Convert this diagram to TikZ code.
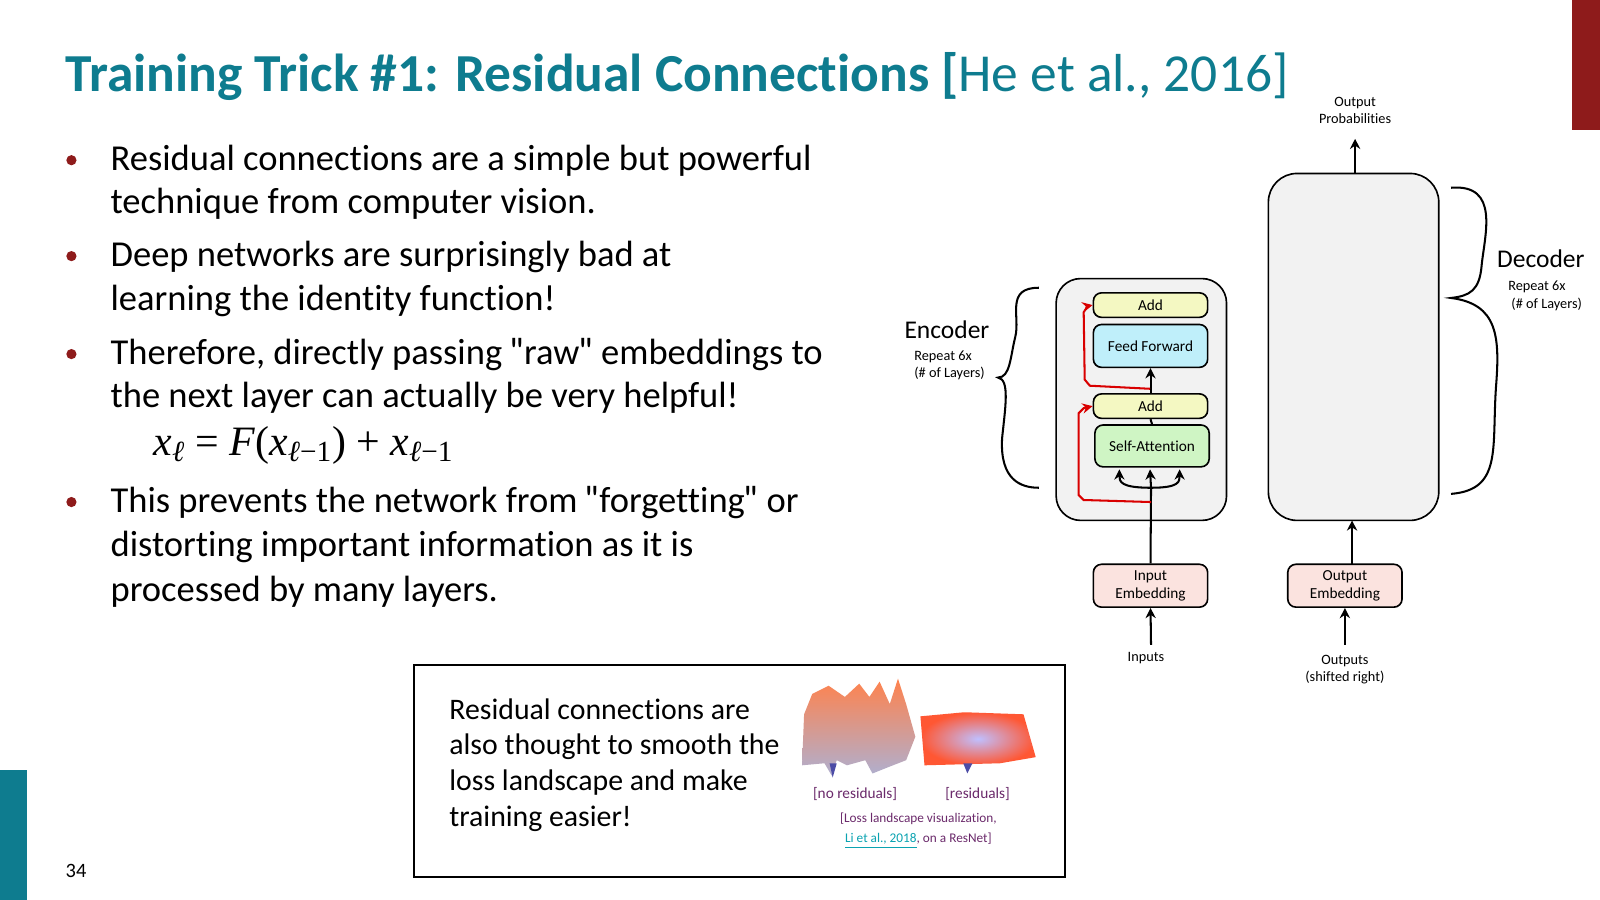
\documentclass[tikz,border=0pt]{standalone}
\usepackage{fontspec}
\setmainfont{Carlito}[Ligatures={ResetAll,NoCommon}]
\newfontfamily\mathish{Liberation Serif}
\newfontfamily\qfont{Lato}[Ligatures=ResetAll]
\usetikzlibrary{arrows.meta,decorations.pathreplacing}
\definecolor{teal1}{HTML}{0E7C8F}
\definecolor{dred}{HTML}{8E1B1B}
\definecolor{purp}{HTML}{6B2A6B}
\definecolor{yel}{HTML}{F4F8C2}
\definecolor{cyn}{HTML}{BFEFFA}
\definecolor{grn}{HTML}{CFF5C4}
\definecolor{pnk}{HTML}{FBE3DF}
\newcommand{\dq}{{\qfont\char"22\relax}}
\begin{document}
\begin{tikzpicture}[x=0.5pt,y=-0.5pt,
  blk/.style={draw=black,line width=0.8pt,rounded corners=4pt,font=\fontsize{7.5}{8}\selectfont,inner sep=0},
  body/.style={anchor=base west,inner sep=0,font=\fontsize{17.9}{20}\selectfont},
  small/.style={font=\fontsize{7}{8.5}\selectfont,align=center},
  arr/.style={-{Stealth[length=5pt,width=5pt]},line width=1pt},
  rarr/.style={-{Stealth[length=5pt,width=5pt]},line width=1pt,red!85!black},
  bul/.style={circle,fill=dred,inner sep=0,minimum size=5pt}]
\useasboundingbox (0,0) rectangle (1568,882);
\fill[white] (0,0) rectangle (1568,882);
\fill[dred] (1541,0) rectangle (1568,127);
\fill[teal1] (0,755) rectangle (26,882);
\node[anchor=base west,inner sep=0,font=\fontsize{10}{12}\selectfont] (pg) at (64,860) {34};
\node[anchor=base west,inner sep=0,font=\fontsize{26.2}{28}\selectfont,text=teal1] (title) at (64,90) {\textbf{Training Trick \#1: Residual Connections [}He et al., 2016]};
% bullets
\foreach \y in {157,251,347,492} \node[bul] at (70,\y) {};
\node[body] (b1a) at (108,167) {Residual connections are a simple but powerful};
\node[body] (b1b) at (108,209) {technique from computer vision.};
\node[body] (b2a) at (108,261) {Deep networks are surprisingly bad at};
\node[body] (b2b) at (108,304) {learning the identity function!};
\node[body] (b3a) at (108,357) {Therefore, directly passing \dq raw\dq\ embeddings to};
\node[body] (b3b) at (108,399) {the next layer can actually be very helpful!};
\node[anchor=base west,inner sep=0,font=\fontsize{20.5}{22}\selectfont] (eq) at (150,446) {\mathish\itshape x\textsubscript{ℓ}\upshape\ = \itshape F\upshape(\itshape x\textsubscript{ℓ\upshape −1}\upshape) + \itshape x\textsubscript{ℓ\upshape −1}};
\node[body] (b4a) at (108,502) {This prevents the network from \dq forgetting\dq\ or};
\node[body] (b4b) at (108,545) {distorting important information as it is};
\node[body] (b4c) at (108,589) {processed by many layers.};
% box
\draw[line width=1pt] (406,652) rectangle (1044,859);
\node[anchor=north west,inner sep=0,font=\fontsize{14.6}{17.6}\selectfont,align=left] (bt) at (440,684)
 {Residual connections are\\also thought to smooth the\\loss landscape and make\\training easier!};
% landscapes
\shade[top color=orange!60!red!70,bottom color=blue!25!gray!50]
 (786,750) -- (788,700) -- (796,680) -- (812,672) -- (828,683) -- (842,670) -- (852,683) -- (862,668) -- (872,690) -- (880,665) -- (888,690) -- (897,722) -- (888,745) -- (870,752) -- (855,758) -- (848,745) -- (830,750) -- (820,745) -- (815,760) -- (808,748) -- cycle;
\fill[blue!50!black!70] (813,748) -- (816,762) -- (820,748) -- cycle;
\shade[inner color=blue!25!white,outer color=red!65!orange!80]
 (902,702) -- (945,698) -- (1003,700) -- (1015,742) -- (980,748) -- (906,750) -- cycle;
\fill[blue!50!black!70] (944,748) -- (948,758) -- (953,748) -- cycle;
\node[font=\fontsize{7.5}{9}\selectfont,text=purp] (nr) at (838,778) {[no residuals]};
\node[font=\fontsize{7.5}{9}\selectfont,text=purp] (rr) at (958,778) {[residuals]};
\node[font=\fontsize{6.5}{10}\selectfont,text=purp,align=center] (cite) at (900,814)
 {[Loss landscape visualization,\\{\color{teal1!70!cyan}\underline{Li et al., 2018}}, on a ResNet]};
% encoder
\draw[line width=0.8pt,fill=gray!10,rounded corners=12pt] (1035,273) rectangle (1202,510);
\node[blk,fill=yel,minimum width=56pt,minimum height=12pt] (add2) at (1127.5,299) {Add};
\node[blk,fill=cyn,minimum width=56pt,minimum height=21pt] (ff) at (1127.5,339) {Feed Forward};
\node[blk,fill=yel,minimum width=56pt,minimum height=12pt] (add1) at (1127.5,398) {Add};
\node[blk,fill=grn,minimum width=56pt,minimum height=20.5pt] (sa) at (1129,437) {Self-Attention};
\node[blk,fill=pnk,minimum width=56pt,minimum height=21pt,align=center,font=\fontsize{7.5}{9}\selectfont] (ie) at (1127.5,574) {Input\\Embedding};
% decoder
\node[draw,line width=0.8pt,fill=gray!10,rounded corners=14pt,minimum width=83.5pt,minimum height=170pt,inner sep=0] (dec) at (1326.5,340) {};
\node[blk,fill=pnk,minimum width=56pt,minimum height=21pt,align=center,font=\fontsize{7.5}{9}\selectfont] (oe) at (1318,574) {Output\\Embedding};
% labels
\node[small] (inp) at (1123,645) {Inputs};
\node[small] (outp) at (1318,656) {Outputs\\(shifted right)};
\node[small] (prob) at (1328,108) {Output\\Probabilities};
\node[font=\fontsize{12.5}{14}\selectfont] (enc) at (928,323) {Encoder};
\node[small,align=left] (encr) at (889,358) [anchor=west] {Repeat 6x\\(\# of Layers)};
\node[font=\fontsize{12.5}{14}\selectfont] (decl) at (1510,254) {Decoder};
\node[small,align=left] (decr) at (1471,290) [anchor=west] {Repeat 6x\\\ (\# of Layers)};
% braces
\draw[line width=1pt] (1018,282) .. controls (985,282) and (1000,310) .. (995,330) .. controls (990,350) and (990,370) .. (978,370) .. controls (990,372) and (985,400) .. (982,430) .. controls (980,470) and (1000,478) .. (1018,478);
\draw[line width=1pt] (1422,184) .. controls (1470,180) and (1455,230) .. (1452,260) .. controls (1450,285) and (1440,290) .. (1422,292) .. controls (1468,298) and (1470,330) .. (1466,380) .. controls (1462,440) and (1472,480) .. (1422,484);
% connectors
\coordinate (inTop) at (1128,632);
\draw[arr] (inTop) -- (ie.south);
\coordinate (j) at (1128,478);
\coordinate (rj) at (1128,492);
\draw[line width=1pt] (ie.north) -- (j);
\draw[arr] (j) -- (1127,460);
\draw[arr] (j) .. controls (1098,478) and (1097,472) .. (1097,460);
\draw[arr] (j) .. controls (1156,478) and (1156,472) .. (1156,460);
\draw[line width=1pt] (sa.north) -- (add1.south);
\draw[rarr] (rj) -- (1062,490) -- (1057,485) -- (1057,405) -- (1062,400) -- (add1.west);
\draw[arr] (add1.north) -- (ff.south);
\draw[rarr] (1127,381) -- (1068,378) -- (1063,372) -- (1062,306) -- (1066,300) -- (add2.west);
\coordinate (outTop) at (1318,632);
\draw[arr] (outTop) -- (oe.south);
\draw[arr] (1325,553) -- (1325,510);
\coordinate (probBot) at (1328,136);
\draw[arr] (1328,170) -- (probBot);
\end{tikzpicture}
\end{document}
